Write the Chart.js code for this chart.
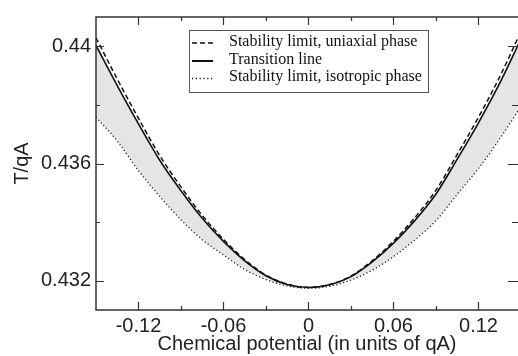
<!DOCTYPE html>
<html>
<head>
<meta charset="utf-8">
<script src="https://cdn.jsdelivr.net/npm/chart.js@4"></script>
<style>
  html, body { margin: 0; padding: 0; background: #fff; }
  canvas { display: block; }
</style>
</head>
<body>
<canvas id="phase-chart" width="518" height="356"></canvas>
<script>
// chemical potential (units of qA)
const mu = [-0.15, -0.135, -0.12, -0.105, -0.09, -0.075, -0.06, -0.045, -0.03, -0.015, 0,
            0.015, 0.03, 0.045, 0.06, 0.075, 0.09, 0.105, 0.12, 0.135, 0.15];

// T/qA
const uniaxialLimit = [0.44029, 0.43888, 0.43754, 0.43627, 0.43520, 0.43423, 0.43341, 0.43272, 0.43219, 0.43188, 0.43177,
                       0.43187, 0.43216, 0.43268, 0.43335, 0.43415, 0.43509, 0.43631, 0.43758, 0.43896, 0.44051];
const transitionLine = [0.44003, 0.43866, 0.43735, 0.43611, 0.43507, 0.43413, 0.43334, 0.43268, 0.43217, 0.43187, 0.43177,
                        0.43186, 0.43214, 0.43264, 0.43328, 0.43405, 0.43496, 0.43615, 0.43739, 0.43874, 0.44025];
const isotropicLimit = [0.43758, 0.43677, 0.43576, 0.43488, 0.43408, 0.43340, 0.43288, 0.43238, 0.43204, 0.43182, 0.43174,
                        0.43181, 0.43202, 0.43236, 0.43282, 0.43339, 0.43405, 0.43495, 0.43583, 0.43684, 0.43795];

const seriesNames = ['Stability limit, uniaxial phase', 'Transition line', 'Stability limit, isotropic phase'];

const xTicks = [-0.12, -0.06, 0, 0.06, 0.12];
const xTickLabels = ['-0.12', '-0.06', '0', '0.06', '0.12'];
const xMinorTicks = [-0.09, -0.03, 0.03, 0.09];
const yTicks = [0.432, 0.436, 0.44];
const yTickLabels = ['0.432', '0.436', '0.44'];
const yMinorTicks = [0.434, 0.438];

function toPoints(values) {
    return values.map((v, i) => ({ x: mu[i], y: v }));
}

const frameColor = '#333';

const framePlugin = {
    id: 'frame',
    afterDraw(chart) {
        const ctx = chart.ctx;
        const area = chart.chartArea;
        const xs = chart.scales.x;
        const ys = chart.scales.y;
        ctx.save();
        ctx.strokeStyle = frameColor;
        ctx.lineWidth = 1.5;
        ctx.beginPath();
        ctx.moveTo(area.right, area.top);
        ctx.lineTo(area.left, area.top);
        ctx.lineTo(area.left, area.bottom);
        ctx.lineTo(area.right, area.bottom);
        ctx.stroke();

        ctx.lineWidth = 1.2;
        ctx.beginPath();
        const xMarks = xTicks.map(v => [v, 8]).concat(xMinorTicks.map(v => [v, 4]));
        xMarks.forEach(([v, len]) => {
            const px = Math.round(xs.getPixelForValue(v)) + 0.5;
            ctx.moveTo(px, area.bottom);
            ctx.lineTo(px, area.bottom - len);
            ctx.moveTo(px, area.top);
            ctx.lineTo(px, area.top + len);
        });
        const yMarks = yTicks.map(v => [v, 8]).concat(yMinorTicks.map(v => [v, 4]));
        yMarks.forEach(([v, len]) => {
            const py = Math.round(ys.getPixelForValue(v)) + 0.5;
            ctx.moveTo(area.left, py);
            ctx.lineTo(area.left + len, py);
            ctx.moveTo(area.right, py);
            ctx.lineTo(area.right - len - 2, py);
        });
        ctx.stroke();

        // legend box
        const bx = 189.5, by = 30.5, bw = 239, bh = 62;
        ctx.fillStyle = '#fff';
        ctx.fillRect(bx, by, bw, bh);
        ctx.lineWidth = 1;
        ctx.strokeStyle = '#555';
        ctx.strokeRect(bx, by, bw, bh);

        const rows = [
            { y: 45.5, dash: [5, 3], width: 1.5 },
            { y: 63.5, dash: [], width: 2 },
            { y: 81, dash: [1.2, 2.6], width: 1.3 }
        ];
        ctx.font = '16px "Liberation Serif", "Times New Roman", serif';
        ctx.textBaseline = 'alphabetic';
        rows.forEach((r, i) => {
            ctx.strokeStyle = '#111';
            ctx.lineWidth = r.width;
            ctx.setLineDash(r.dash);
            ctx.beginPath();
            ctx.moveTo(192, r.y - 2.5);
            ctx.lineTo(213, r.y - 2.5);
            ctx.stroke();
            ctx.setLineDash([]);
            ctx.fillStyle = '#111';
            ctx.fillText(seriesNames[i], 229, r.y);
        });
        ctx.restore();
    }
};

const ctx = document.getElementById('phase-chart').getContext('2d');
new Chart(ctx, {
    type: 'line',
    data: {
        datasets: [{
            label: seriesNames[0],
            data: toPoints(uniaxialLimit),
            borderColor: '#111',
            borderWidth: 1.5,
            borderDash: [5, 3],
            pointRadius: 0,
            cubicInterpolationMode: 'monotone',
            fill: false
        }, {
            label: seriesNames[1],
            data: toPoints(transitionLine),
            borderColor: '#111',
            borderWidth: 1.6,
            pointRadius: 0,
            cubicInterpolationMode: 'monotone',
            backgroundColor: 'rgb(229, 229, 231)',
            fill: { target: 2 }
        }, {
            label: seriesNames[2],
            data: toPoints(isotropicLimit),
            borderColor: '#222',
            borderWidth: 1.3,
            borderDash: [1.2, 2.4],
            pointRadius: 0,
            cubicInterpolationMode: 'monotone',
            fill: false
        }]
    },
    options: {
        responsive: false,
        devicePixelRatio: 1,
        animation: false,
        layout: { padding: { top: 13, right: 0, left: 0, bottom: 0 } },
        plugins: {
            legend: { display: false },
            tooltip: { enabled: false },
            filler: { drawTime: 'beforeDatasetsDraw' }
        },
        scales: {
            x: {
                type: 'linear',
                min: -0.15,
                max: 0.1479,
                afterBuildTicks: scale => { scale.ticks = xTicks.map(v => ({ value: v })); },
                afterFit: scale => { scale.height = 46; },
                grid: { display: false, drawTicks: false },
                border: { display: false },
                ticks: {
                    autoSkip: false,
                    maxRotation: 0,
                    padding: 4,
                    color: '#222',
                    font: { family: '"Liberation Sans", Arial, sans-serif', size: 20 },
                    callback: (v, i) => xTickLabels[i]
                },
                title: {
                    display: true,
                    text: 'Chemical potential (in units of qA)',
                    color: '#222',
                    padding: 0,
                    font: { family: '"Liberation Sans", Arial, sans-serif', size: 20 }
                }
            },
            y: {
                min: 0.431,
                max: 0.441,
                afterBuildTicks: scale => { scale.ticks = yTicks.map(v => ({ value: v })); },
                afterFit: scale => { scale.width = 96; },
                grid: { display: false, drawTicks: false },
                border: { display: false },
                ticks: {
                    autoSkip: false,
                    padding: 5,
                    color: '#222',
                    font: { family: '"Liberation Sans", Arial, sans-serif', size: 20 },
                    callback: (v, i) => yTickLabels[i]
                },
                title: {
                    display: true,
                    text: 'T/qA',
                    color: '#222',
                    padding: { top: 10, bottom: 0 },
                    font: { family: '"Liberation Sans", Arial, sans-serif', size: 20 }
                }
            }
        }
    },
    plugins: [framePlugin]
});
</script>
</body>
</html>
